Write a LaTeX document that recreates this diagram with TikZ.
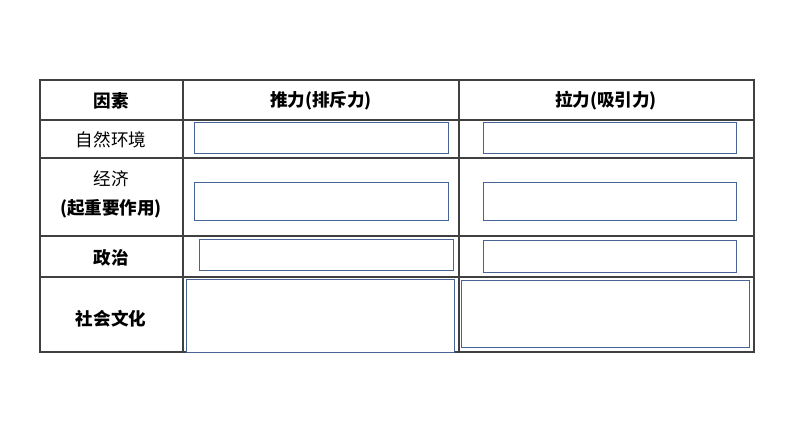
\documentclass[tikz,border=0pt]{standalone}
\usepackage{fontspec}
\newfontfamily\cjk{Noto Sans CJK SC}
\usetikzlibrary{positioning}
\begin{document}
\begin{tikzpicture}[x=0.02cm,y=-0.02cm]
\tikzstyle{txt}=[font=\cjk\fontsize{10}{12}\selectfont]
\tikzstyle{btxt}=[font=\cjk\bfseries\fontsize{10}{12}\selectfont]
\tikzstyle{cover}=[draw={rgb,255:red,70;green,100;blue,150},fill=white,line width=0.5pt]
\useasboundingbox (0,0) rectangle (794,447);
% table grid
\draw[line width=0.6pt,black!75] (40,80) rectangle (754,352);
\foreach \y in {120,158,236,277}
    \draw[line width=0.6pt,black!75] (40,\y) -- (754,\y);
\foreach \x in {183,459}
    \draw[line width=0.6pt,black!75] (\x,80) -- (\x,352);
% header
\node[btxt] (h1) at (111,101) {因素};
\node[btxt] (h2) at (321,101) {推力(排斥力)};
\node[btxt] (h3) at (606,101) {拉力(吸引力)};
% row labels
\node[txt] (r1) at (111,140) {自然环境};
\node[txt] (r2) at (111,179) {经济};
\node[btxt,below=0pt of r2] (r2b) {(起重要作用)};
\node[btxt] (r3) at (111,258) {政治};
\node[btxt] (r4) at (111,319) {社会文化};
% covering boxes
\draw[cover] (194,122) rectangle (448,153);
\draw[cover] (483,122) rectangle (736,153);
\draw[cover] (194,182) rectangle (448,220);
\draw[cover] (483,182) rectangle (736,220);
\draw[cover] (199,239) rectangle (453,270);
\draw[cover] (483,240) rectangle (736,272);
\draw[cover] (186,279) rectangle (454,352);
\draw[cover] (461,280) rectangle (749,347);
\end{tikzpicture}
\end{document}
